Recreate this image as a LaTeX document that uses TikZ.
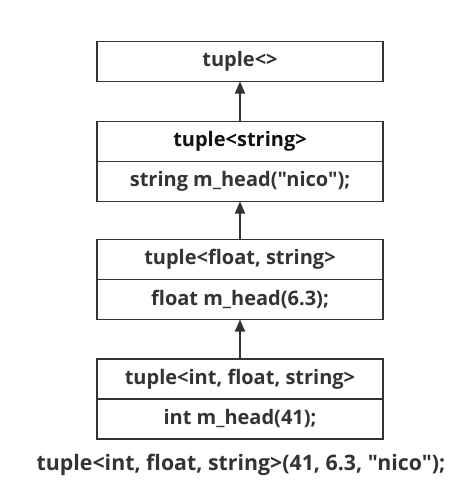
\documentclass[tikz,border=0pt]{standalone}
\usepackage{fontspec}
\setmainfont{Open Sans}[Ligatures=TeXOff]
\usetikzlibrary{arrows.meta, positioning}
\definecolor{cdark}{HTML}{333333}
\definecolor{cblack}{HTML}{111111}

\begin{document}
\begin{tikzpicture}[x=0.75pt, y=-0.75pt,
  box/.style={draw=cdark, line width=1.3pt, minimum width=214.5pt, minimum height=30pt,
    inner sep=0pt, outer sep=0pt, text=cdark, font=\fontsize{15}{18}\selectfont\bfseries},
  inherit/.style={-{Triangle[length=9pt, width=7.5pt]}, line width=1.3pt, draw=cdark}]
  \useasboundingbox (0,0) rectangle (467,490);

  % class chain, base at the top
  \node[box] (base) at (240,61.5) {tuple<>};
  \node[box, text=cblack, below=30pt of base] (strhead) {tuple<string>};
  \node[box, below=0pt of strhead] (strbody) {string m\_head("nico");};
  \node[box, below=28.5pt of strbody] (flthead) {tuple<float, string>};
  \node[box, below=0pt of flthead] (fltbody) {float m\_head(6.3);};
  \node[box, below=29.5pt of fltbody] (inthead) {tuple<int, float, string>};
  \node[box, below=0pt of inthead] (intbody) {int m\_head(41);};

  % inheritance arrows
  \draw[inherit] (strhead) -- (base);
  \draw[inherit] (flthead) -- (strbody);
  \draw[inherit] (inthead) -- (fltbody);

  \node[text=cdark, font=\fontsize{16}{19}\selectfont\bfseries] (call) at (241,465)
    {tuple<int, float, string>(41, 6.3, "nico");};
\end{tikzpicture}
\end{document}
